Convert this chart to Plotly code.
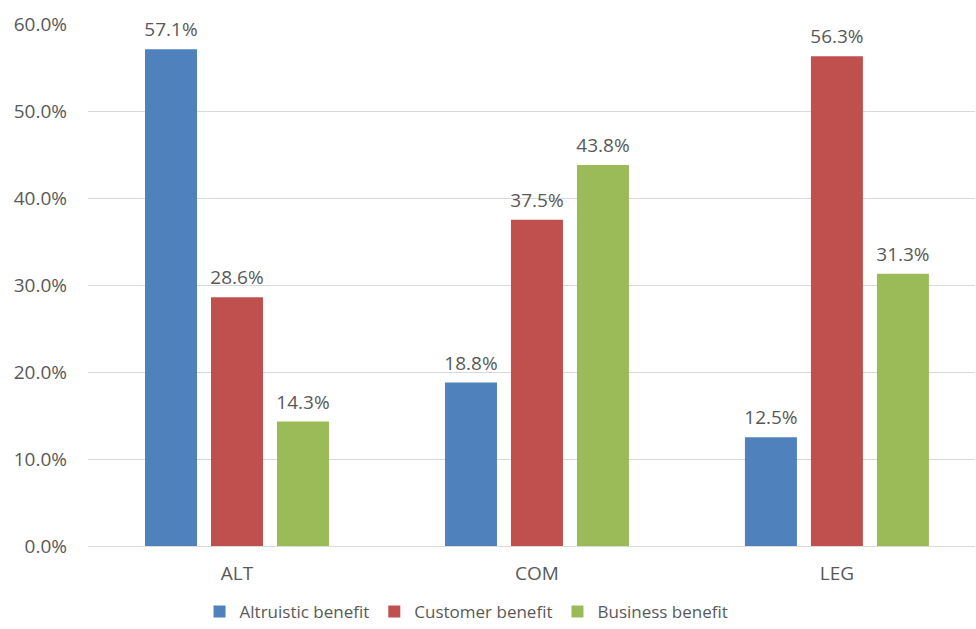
import plotly.graph_objects as go

categories = ["ALT", "COM", "LEG"]
altruistic = [0.571, 0.188, 0.125]
customer = [0.286, 0.375, 0.563]
business = [0.143, 0.438, 0.313]
series_names = ["Altruistic benefit", "Customer benefit", "Business benefit"]
colors = ["#4f81bd", "#c0504d", "#9bbb59"]

FONT = "Open Sans, Noto Sans, sans-serif"
GRAY = "#595959"
FS = 19

fig = go.Figure()
for name, vals, col in zip(series_names, [altruistic, customer, business], colors):
    fig.add_trace(go.Bar(
        x=categories, y=vals, name=name, marker=dict(color=col, line=dict(width=0)),
        text=[f"<span style='font-size:{FS}px'>{v*100:.1f}%</span><br>\u00a0" for v in vals],
        textposition="outside", cliponaxis=False, constraintext="none",
        textfont=dict(family=FONT, size=6, color=GRAY),
    ))

fig.update_layout(
    width=976, height=629,
    margin=dict(l=88, r=1, t=24, b=83),
    paper_bgcolor="white", plot_bgcolor="white",
    barmode="group", bargap=0.34, bargroupgap=0.212,
    font=dict(family=FONT, size=FS, color=GRAY),
    showlegend=True,
    legend=dict(orientation="h", xref="container", x=0.478, xanchor="center",
                yref="container", y=0.027, yanchor="middle",
                font=dict(family=FONT, size=17, color=GRAY), itemwidth=30),
    yaxis=dict(range=[0, 0.6], dtick=0.1, tickformat=".1%", showgrid=True,
               gridcolor="#d9d9d9", gridwidth=1, zeroline=True, zerolinecolor="#d9d9d9",
               zerolinewidth=1, ticks="", ticklabelstandoff=20,
               tickfont=dict(family=FONT, size=FS, color=GRAY)),
    xaxis=dict(showgrid=False, ticks="", ticklabelstandoff=14, showline=False,
               range=[-0.4967, 2.4603], fixedrange=True,
               tickfont=dict(family=FONT, size=FS, color=GRAY)),
)

fig.write_html("out.html", config={"displayModeBar": False},
               post_script="document.body.style.margin='0';document.body.style.overflow='hidden';")
